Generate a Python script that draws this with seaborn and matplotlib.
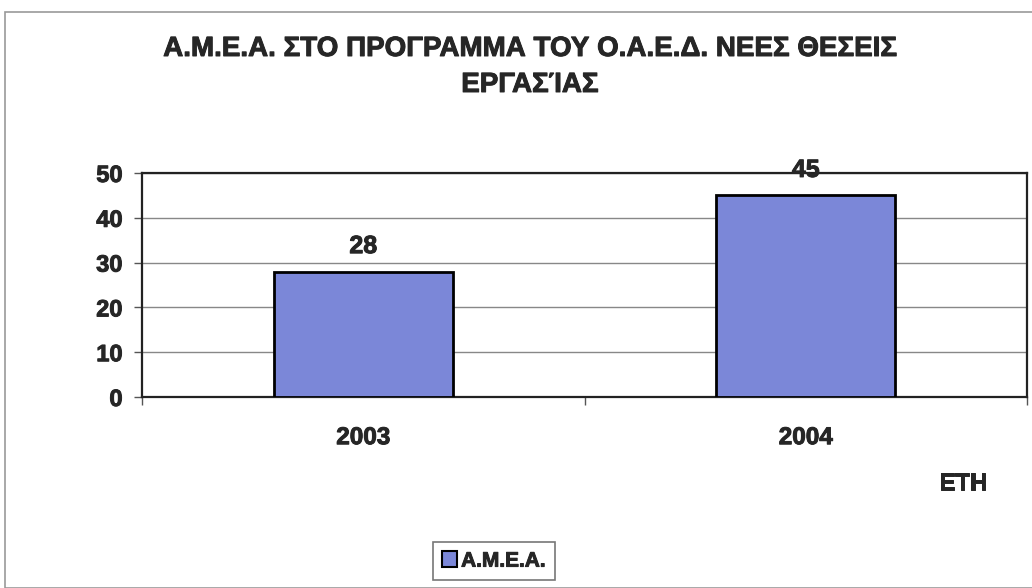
import matplotlib
matplotlib.use("Agg")
import matplotlib.pyplot as plt
import matplotlib.patheffects as pe
import seaborn as sns
import pandas as pd
from matplotlib.patches import Rectangle, Patch
from matplotlib.ticker import FixedLocator

years = ["2003", "2004"]
values = [28, 45]
series_name = "Α.Μ.Ε.Α."
title = "Α.Μ.Ε.Α. ΣΤΟ ΠΡΟΓΡΑΜΜΑ ΤΟΥ Ο.Α.Ε.Δ. ΝΕΕΣ ΘΕΣΕΙΣ\nΕΡΓΑΣΊΑΣ"
x_label = "ΕΤΗ"
y_ticks = [0, 10, 20, 30, 40, 50]

sns.set_theme(style="white")
plt.rcParams['font.family'] = ['Liberation Sans', 'DejaVu Sans']
plt.rcParams['font.weight'] = 'bold'

TXT = "#262626"
heavy = [pe.withStroke(linewidth=0.7, foreground=TXT)]

df = pd.DataFrame({"year": years, "value": values})
bar_color = "#7B87D8"

fig = plt.figure(figsize=(10.32, 5.88), dpi=100)
ax = fig.add_axes([142/1032, 1 - 397/588, (1027-142)/1032, (397-173)/588])

sns.barplot(data=df, x="year", y="value", color=bar_color, width=0.405,
            edgecolor="black", linewidth=2, saturation=1, ax=ax, zorder=3)

ax.set_ylim(0, 50)
ax.set_xlim(-0.5, 1.5)
ax.set_yticks(y_ticks)
ax.set_yticklabels([str(t) for t in y_ticks], fontsize=17, fontweight='bold', color=TXT)
ax.set_xticklabels(years, fontsize=17.5, fontweight='bold', color=TXT)
for lab in ax.get_xticklabels() + ax.get_yticklabels():
    lab.set_path_effects(heavy)
ax.tick_params(axis='x', which='major', length=0, pad=21)
ax.xaxis.set_minor_locator(FixedLocator([-0.5, 0.5, 1.5]))
ax.tick_params(axis='x', which='minor', length=6, width=1, color="#555555", direction='out', bottom=True)
ax.tick_params(axis='y', length=6, width=1, color="#555555", direction='out', left=True, pad=8)
ax.grid(axis='y', color="#888888", linewidth=1, zorder=0)
ax.set_axisbelow(True)
for s in ax.spines.values():
    s.set_color("#222222")
    s.set_linewidth(1.6)
ax.set_xlabel("")
ax.set_ylabel("")

for i, v in enumerate(values):
    ax.text(i, v + 3, str(v), ha='center', va='bottom', fontsize=18,
            fontweight='bold', color=TXT, zorder=5, path_effects=heavy)

fig.text(530/1032, 1 - 67/588, title, ha='center', va='center', fontsize=20,
         fontweight='bold', color=TXT, linespacing=1.5, path_effects=heavy)
fig.text(963/1032, 1 - 483/588, x_label, ha='center', va='center', fontsize=17,
         fontweight='bold', color=TXT, path_effects=heavy)

handle = Patch(facecolor=bar_color, edgecolor="black", linewidth=1.5)
leg = fig.legend([handle], [series_name], loc='center', bbox_to_anchor=(494/1032, 1 - 561/588),
                 frameon=True, fancybox=False, fontsize=15, handlelength=0.7, handleheight=0.8,
                 handletextpad=0.2, borderpad=0.45, borderaxespad=0)
leg.get_frame().set_edgecolor("#555555")
leg.get_frame().set_linewidth(1.2)
for t in leg.get_texts():
    t.set_fontweight('bold')
    t.set_color(TXT)
    t.set_path_effects(heavy)

fig.patches.append(Rectangle((5/1032, 0), 1.2, 1 - 12/588, transform=fig.transFigure,
                             fill=False, edgecolor="#999999", linewidth=1.2))

fig.savefig("out.png", dpi=100)
